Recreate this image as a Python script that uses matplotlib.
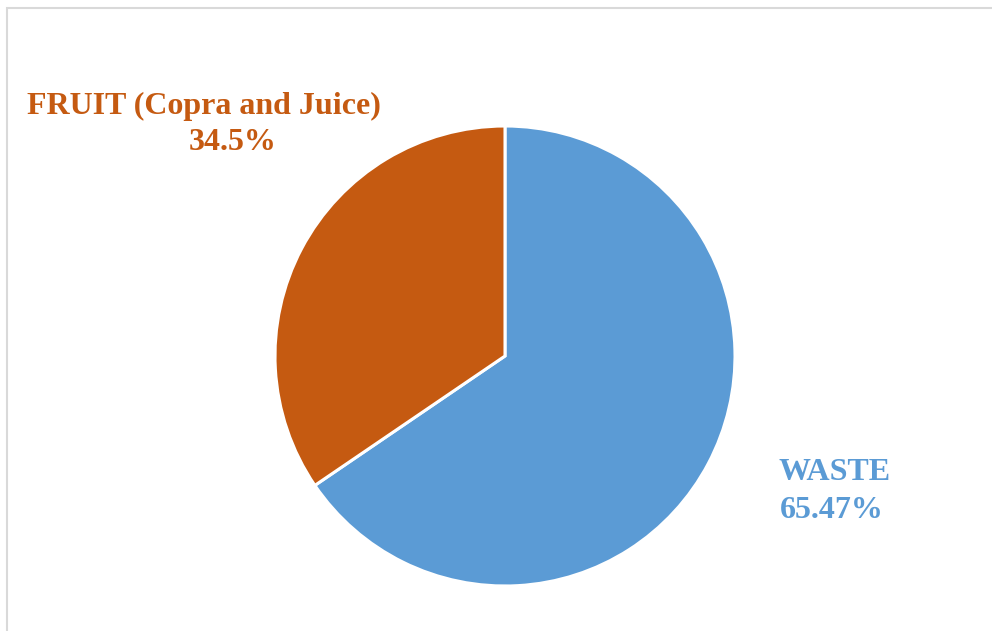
import matplotlib.pyplot as plt
from matplotlib.patches import Rectangle

# Data
labels = ['WASTE', 'FRUIT (Copra and Juice)']
values = [65.47, 34.5]
pct_text = ['65.47%', '34.5%']
colors = ['#5B9BD5', '#C55A11']

W, H = 992, 631
fig = plt.figure(figsize=(W / 100, H / 100), dpi=100)

# light grey chart frame (runs off right and bottom edges)
fig.patches.append(Rectangle((6.5 / W, -0.05), 1.1, 1 - 7.5 / H + 0.05,
                             transform=fig.transFigure, fill=False,
                             edgecolor='#d9d9d9', linewidth=1.5))

# pie centre (505, 356) px, radius 230 px
cx, cy, r = 505, 356, 230
ax = fig.add_axes([(cx - r) / W, (H - cy - r) / H, 2 * r / W, 2 * r / H])
ax.pie(values, colors=colors, startangle=90, counterclock=False,
       wedgeprops=dict(edgecolor='white', linewidth=2.2))
ax.set_xlim(-1, 1)
ax.set_ylim(-1, 1)
ax.set_aspect('equal')
ax.axis('off')

font = dict(family='Liberation Serif', weight='bold', fontsize=23,
            ha='center', va='center')
fig.text(204 / W, 1 - 106 / H, labels[1], color=colors[1], **font)
fig.text(233 / W, 1 - 142 / H, pct_text[1], color=colors[1], **font)
fig.text(835 / W, 1 - 473 / H, labels[0], color=colors[0], **font)
fig.text(832 / W, 1 - 510 / H, pct_text[0], color=colors[0], **font)

fig.savefig('out.png', dpi=100)
